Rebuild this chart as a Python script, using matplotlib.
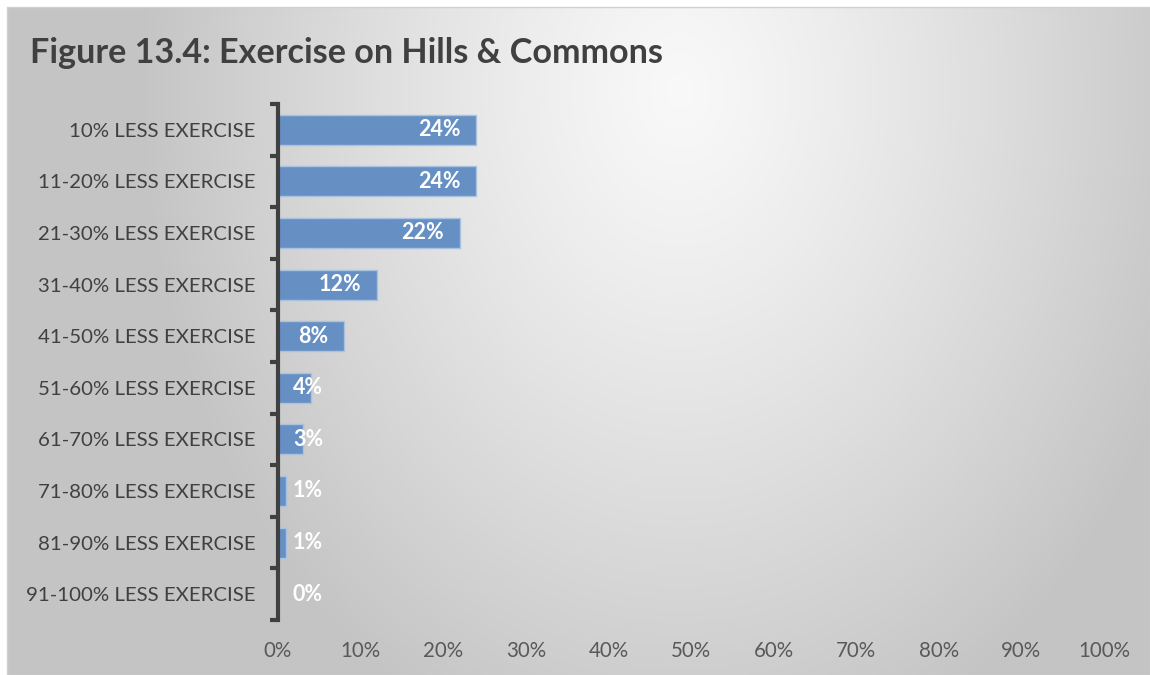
import numpy as np
import matplotlib
matplotlib.use("Agg")
import matplotlib.pyplot as plt
from matplotlib.patches import Rectangle

categories = ["10% LESS EXERCISE", "11-20% LESS EXERCISE", "21-30% LESS EXERCISE",
              "31-40% LESS EXERCISE", "41-50% LESS EXERCISE", "51-60% LESS EXERCISE",
              "61-70% LESS EXERCISE", "71-80% LESS EXERCISE", "81-90% LESS EXERCISE",
              "91-100% LESS EXERCISE"]
values = [24, 24, 22, 12, 8, 4, 3, 1, 1, 0]
xticks = [0, 10, 20, 30, 40, 50, 60, 70, 80, 90, 100]
xtick_labels = [f"{t}%" for t in xticks]
title = "Figure 13.4: Exercise on Hills & Commons"

W, H = 1150, 675
fig = plt.figure(figsize=(W / 100, H / 100), dpi=100)
fig.patch.set_facecolor("white")

# background gradient panel
bg = fig.add_axes([0, 0, 1, 1], zorder=0)
bx0, by0, bx1, by1 = 7, 7, 1150, 675
xs = np.arange(bx0, bx1)
ys = np.arange(by0, by1)
X, Y = np.meshgrid(xs, ys)
cx, cy, rx, ry = 680, 90, 540, 700
t = np.clip(np.sqrt(((X - cx) / rx) ** 2 + ((Y - cy) / ry) ** 2), 0, 1)
t = t ** 1.2
c0, c1 = 0.975, 0.77
g = c0 + (c1 - c0) * t
img = np.dstack([g, g, g])
bg.imshow(img, extent=[bx0, bx1, by1, by0], interpolation="bilinear", aspect="auto")
bg.set_xlim(0, W)
bg.set_ylim(H, 0)
bg.add_patch(Rectangle((bx0, by0), bx1 - bx0, by1 - by0, fill=False, ec="#d0d0d0", lw=1))
bg.axis("off")

font = "Lato"
ax = fig.add_axes([278 / W, 1 - 620 / H, (1104 - 278) / W, (620 - 104) / H], zorder=1)
ax.patch.set_alpha(0)
n = len(categories)
ypos = np.arange(n)
ax.barh(ypos, values, height=0.58, color="#6690c4", edgecolor="#a9c2e2", linewidth=1, zorder=2)
ax.set_xlim(0, 100)
ax.set_ylim(n - 0.5, -0.5)

ax.set_yticks(ypos)
ax.set_yticklabels(categories, fontfamily=font, fontsize=14.7, color="#404040")
ax.tick_params(axis="y", length=0, pad=16)
ax.set_yticks(np.arange(-0.5, n, 1), minor=True)
ax.tick_params(axis="y", which="minor", length=6, width=3, color="#404040", direction="out")

ax.set_xticks(xticks)
ax.set_xticklabels(xtick_labels, fontfamily=font, fontsize=14.8, color="#595959")
ax.tick_params(axis="x", length=0, pad=15)

for s in ["top", "right", "bottom"]:
    ax.spines[s].set_visible(False)
ax.spines["left"].set_linewidth(3)
ax.spines["left"].set_color("#404040")

# value labels (inside end, clamped to the base)
lw_unit = 4.0  # approx label width in data units
for yv, v in zip(ypos, values):
    if v - 1.9 - lw_unit < 1.8:
        ax.text(1.8, yv, f"{v}%", ha="left", va="center", color="white",
                fontfamily=font, fontweight="bold", fontsize=15.5, zorder=3)
    else:
        ax.text(v - 1.9, yv, f"{v}%", ha="right", va="center", color="white",
                fontfamily=font, fontweight="bold", fontsize=15.5, zorder=3)

fig.text(30 / W, 1 - 53 / H, title, fontfamily=font, fontweight="bold", fontsize=24.6,
         color="#404040", ha="left", va="center")

fig.savefig("out.png", dpi=100)
